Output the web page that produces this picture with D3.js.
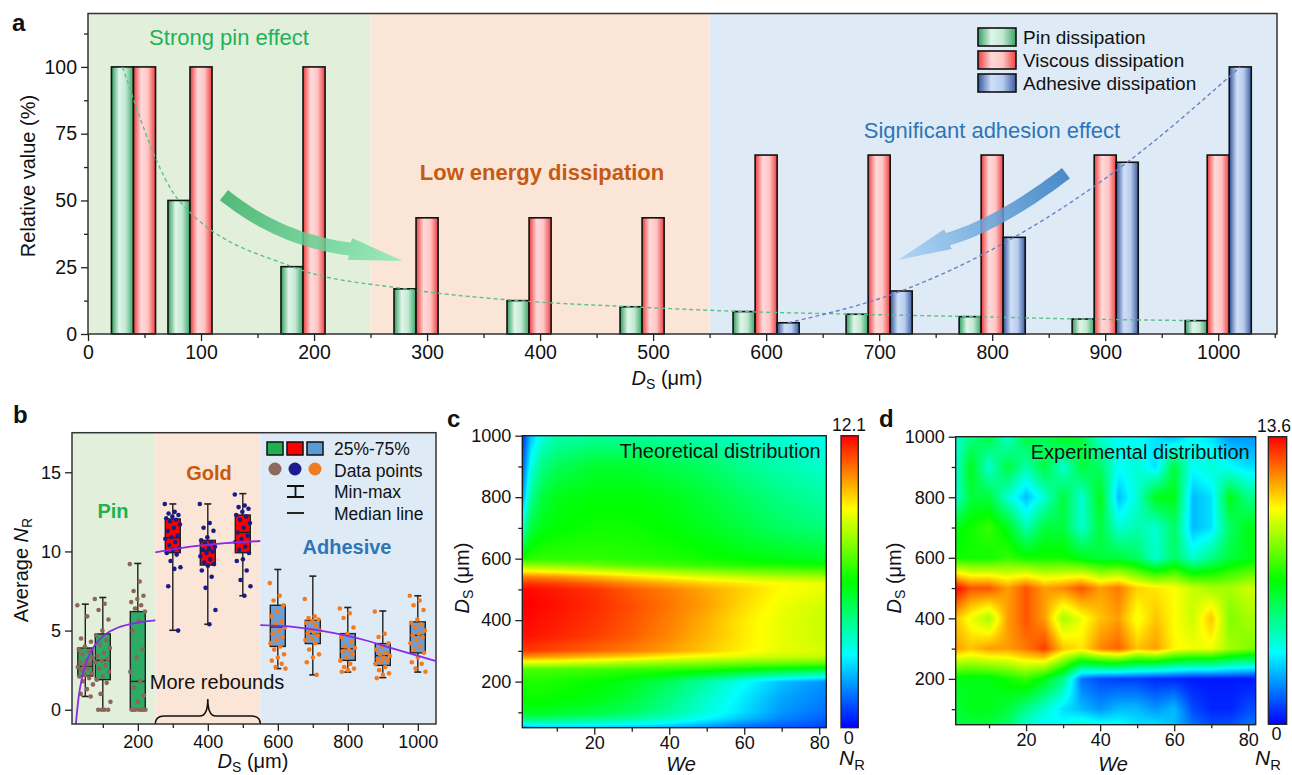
<!DOCTYPE html>
<html>
<head>
<meta charset="utf-8">
<script src="https://cdn.jsdelivr.net/npm/d3@7"></script>
<style>
  body { margin: 0; background: #fff; }
  svg { display: block; font-family: "Liberation Sans", Arial, Helvetica, sans-serif; }
  .tick text { fill: #111; }
  .tick line { stroke: #222; stroke-width: 1.3; }
</style>
</head>
<body>
<svg id="fig" width="1292" height="775"></svg>
<script>
// ---- panel a: relative dissipation
var dsA = [50, 100, 200, 300, 400, 500, 600, 700, 800, 900, 1000];
var pinA = [100, 50, 25.2, 16.9, 12.5, 10.2, 8.4, 7.4, 6.5, 5.6, 5.0];
var viscA = [100, 100, 100, 43.5, 43.5, 43.5, 67, 67, 67, 67, 67];
var adhA = [0, 0, 0, 0, 0, 0, 4.2, 16.1, 36.2, 64.3, 100];
var legendA = ["Pin dissipation", "Viscous dissipation", "Adhesive dissipation"];

// ---- panel b: box stats [min, q1, median, q3, max] and raw points
var dsB = [50, 100, 200, 300, 400, 500, 600, 700, 800, 900, 1000];
var boxB = [
  [0.84, 2.13, 2.74, 3.9, 6.67], [0, 1.9, 3.12, 4.79, 7.09], [0, 0, 1.79, 6.2, 9.24],
  [5.02, 9.92, 10.86, 12.05, 13.0], [5.4, 9.14, 10.04, 10.7, 13.0], [7.2, 9.92, 11.2, 12.3, 13.65],
  [2.6, 4.0, 5.23, 6.6, 8.86], [2.2, 4.18, 4.81, 5.65, 8.44], [2.38, 3.12, 3.86, 4.81, 6.46],
  [2.03, 2.8, 3.42, 4.18, 6.24], [2.38, 3.59, 4.7, 5.55, 7.2]
];
var ptsB = [
  [6.6, 5.9, 4.5, 4.3, 4.0, 3.8, 3.7, 3.5, 3.3, 3.1, 3.0, 2.9, 2.8, 2.7, 2.6, 2.5, 2.3, 2.2, 2.1, 2.0, 1.8, 1.6, 1.3, 1.0, 0.84],
  [7.0, 6.7, 6.3, 5.7, 5.0, 4.7, 4.4, 4.1, 3.9, 3.6, 3.4, 3.2, 3.1, 3.0, 2.8, 2.6, 2.4, 2.1, 1.9, 1.7, 1.0, 0.5, 0, 0, 0, 0],
  [9.2, 8.1, 7.5, 7.2, 7.0, 6.8, 6.6, 6.4, 6.2, 5.6, 5.0, 3.8, 3.3, 2.4, 1.8, 1.4, 0.9, 0.5, 0, 0, 0, 0, 0, 0, 0],
  [13.0, 12.5, 12.4, 12.3, 12.2, 12.1, 12.0, 11.9, 11.7, 11.5, 11.3, 11.0, 10.9, 10.8, 10.6, 10.4, 10.2, 10.1, 9.9, 9.8, 9.4, 9.0, 8.9, 7.8, 5.0],
  [13.0, 11.8, 11.5, 11.3, 10.9, 10.7, 10.6, 10.5, 10.3, 10.2, 10.1, 10.0, 9.9, 9.7, 9.5, 9.3, 9.2, 9.1, 8.8, 8.4, 7.7, 6.3, 5.4],
  [13.6, 12.9, 12.8, 12.7, 12.5, 12.3, 12.2, 12.0, 11.8, 11.5, 11.2, 11.0, 10.8, 10.6, 10.3, 10.1, 9.9, 9.5, 9.4, 8.8, 8.2, 7.8, 7.2],
  [8.0, 7.2, 6.9, 6.6, 6.2, 5.9, 5.6, 5.4, 5.2, 5.0, 4.8, 4.6, 4.4, 4.2, 4.0, 3.8, 3.5, 3.3, 3.1, 2.9, 2.7, 2.6],
  [7.0, 5.9, 5.8, 5.7, 5.6, 5.5, 5.3, 5.1, 5.0, 4.9, 4.8, 4.7, 4.5, 4.4, 4.2, 3.8, 3.5, 3.3, 3.0, 2.2],
  [6.4, 6.1, 5.8, 5.2, 4.8, 4.6, 4.3, 4.0, 3.9, 3.8, 3.7, 3.5, 3.3, 3.1, 2.9, 2.7, 2.6, 2.5, 2.4],
  [6.2, 4.8, 4.6, 4.2, 4.0, 3.8, 3.6, 3.5, 3.4, 3.3, 3.2, 3.1, 3.0, 2.9, 2.7, 2.5, 2.3, 2.2, 2.0],
  [7.2, 6.9, 6.6, 6.3, 5.7, 5.5, 5.4, 5.2, 5.0, 4.8, 4.7, 4.6, 4.4, 4.2, 4.0, 3.8, 3.6, 3.3, 3.0, 2.9, 2.6, 2.4]
];
// fitted curves (purple)
var fitPin = [[23, -0.9], [31, 0.8], [41, 2.06], [55, 3.12], [74, 3.96], [98, 4.6], [136, 5.12], [184, 5.44], [250, 5.65]];
var fitGold = [[250, 9.94], [350, 10.3], [450, 10.52], [550, 10.66]];
var fitAdh = [[550, 5.34], [650, 5.22], [726, 4.98], [850, 4.39], [915, 3.96], [1050, 3.08]];

// ---- panel c: theoretical N_R grid (rows = D_S, cols = We)
var cWe = [1, 3, 6, 10, 20, 30, 40, 50, 60, 70, 82];
var cDs = [50, 60, 80, 100, 150, 200, 240, 260, 280, 300, 350, 400, 450, 500, 520, 540, 560, 580, 600, 700, 800, 900, 1000];
var cNR = [
  [1.8, 2.0, 2.2, 2.3, 2.3, 2.2, 2.0, 1.6, 1.2, 0.9, 0.7],
  [3.0, 3.2, 3.3, 3.3, 3.2, 3.0, 2.7, 2.2, 1.6, 1.2, 0.9],
  [4.6, 4.8, 4.8, 4.7, 4.5, 4.2, 3.7, 3.0, 2.3, 1.6, 1.1],
  [5.6, 5.7, 5.7, 5.6, 5.3, 4.9, 4.2, 3.4, 2.6, 1.8, 1.3],
  [6.1, 6.2, 6.2, 6.1, 5.9, 5.4, 4.6, 3.7, 2.8, 2.0, 1.5],
  [6.3, 6.4, 6.4, 6.3, 6.1, 5.7, 5.0, 4.1, 3.1, 2.3, 1.7],
  [6.9, 6.9, 6.9, 6.9, 6.8, 6.7, 6.6, 6.4, 6.1, 5.8, 5.5],
  [8.6, 8.6, 8.6, 8.5, 8.3, 8.0, 7.8, 7.6, 7.4, 7.3, 7.2],
  [10.3, 10.3, 10.2, 10.1, 9.8, 9.5, 9.1, 8.8, 8.6, 8.4, 8.3],
  [11.4, 11.4, 11.3, 11.2, 10.9, 10.6, 10.2, 9.7, 9.2, 8.8, 8.6],
  [11.9, 11.9, 11.8, 11.7, 11.4, 11.0, 10.5, 9.9, 9.3, 8.8, 8.4],
  [12.0, 12.0, 11.9, 11.8, 11.5, 11.1, 10.6, 10.0, 9.3, 8.8, 8.4],
  [12.1, 12.1, 12.0, 11.9, 11.6, 11.2, 10.7, 10.2, 9.5, 8.9, 8.5],
  [12.0, 12.0, 11.9, 11.8, 11.5, 11.0, 10.6, 10.1, 9.6, 9.1, 8.8],
  [11.5, 11.5, 11.4, 11.3, 10.9, 10.4, 10.0, 9.6, 9.3, 9.0, 8.8],
  [10.6, 10.6, 10.5, 10.4, 10.0, 9.5, 9.1, 8.7, 8.4, 8.2, 8.0],
  [9.1, 9.1, 9.0, 8.9, 8.6, 8.2, 7.9, 7.6, 7.4, 7.2, 7.0],
  [7.6, 7.6, 7.6, 7.5, 7.3, 7.0, 6.8, 6.6, 6.4, 6.3, 6.2],
  [6.3, 6.5, 6.6, 6.6, 6.6, 6.5, 6.4, 6.2, 6.0, 5.8, 5.6],
  [3.8, 5.3, 5.8, 6.0, 6.2, 6.2, 6.0, 5.7, 5.3, 4.9, 4.6],
  [1.9, 4.3, 5.3, 5.8, 6.0, 6.0, 5.8, 5.4, 4.9, 4.5, 4.1],
  [1.2, 3.2, 4.5, 5.0, 5.5, 5.5, 5.2, 4.9, 4.4, 4.0, 3.6],
  [0.6, 2.3, 3.4, 4.0, 4.2, 4.2, 4.1, 3.9, 3.7, 3.5, 3.2]
];
var cMax = 12.1;

// ---- panel d: experimental N_R grid
var dWe = [1, 5, 10, 15, 20, 25, 30, 35, 40, 45, 50, 55, 60, 65, 70, 75, 80];
var dDs = [50, 100, 200, 300, 400, 500, 600, 700, 800, 900, 1000];
var dNR = [
  [6.0, 6.0, 6.0, 5.5, 4.0, 3.5, 3.5, 4.0, 3.5, 3.5, 3.0, 3.0, 2.5, 1.5, 1.0, 1.0, 1.5],
  [6.0, 6.5, 6.5, 6.0, 5.0, 4.0, 3.0, 2.5, 2.0, 2.5, 2.5, 2.0, 2.5, 1.0, 0.5, 0.5, 1.0],
  [6.5, 6.5, 6.5, 7.0, 7.5, 6.5, 5.0, 1.5, 1.0, 0.8, 0.8, 0.5, 0.5, 0.3, 0.3, 0.3, 0.3],
  [11.5, 11.0, 11.5, 11.5, 12.0, 12.8, 11.0, 10.5, 11.8, 12.3, 11.0, 11.5, 10.3, 10.0, 10.0, 9.0, 8.5],
  [11.0, 10.0, 9.0, 11.5, 12.5, 11.5, 9.0, 10.0, 11.0, 11.5, 10.0, 11.0, 10.2, 9.5, 11.0, 8.5, 9.0],
  [13.6, 12.5, 12.5, 11.5, 12.5, 11.5, 11.8, 12.5, 11.5, 12.0, 10.8, 10.5, 10.2, 9.5, 9.0, 9.0, 9.5],
  [7.0, 7.0, 7.0, 7.5, 7.0, 7.0, 7.0, 6.5, 6.0, 6.0, 5.5, 4.0, 5.5, 4.0, 5.0, 6.0, 6.5],
  [6.5, 7.0, 7.5, 6.5, 4.5, 6.0, 6.0, 4.0, 6.0, 4.0, 4.5, 4.0, 5.5, 2.5, 3.0, 5.5, 6.5],
  [4.0, 6.0, 6.0, 4.0, 2.5, 4.0, 6.0, 4.0, 6.5, 2.5, 4.0, 6.5, 6.5, 2.5, 3.0, 6.5, 5.0],
  [4.0, 6.5, 4.0, 6.0, 4.5, 6.0, 4.0, 6.0, 5.5, 3.5, 4.0, 3.0, 6.0, 3.5, 4.0, 3.5, 3.0],
  [4.0, 5.0, 6.0, 4.0, 6.0, 5.5, 6.5, 6.0, 4.0, 3.5, 3.5, 3.0, 2.5, 3.5, 3.0, 2.0, 2.0]
];
var dMax = 13.6;

var rainbow = ["#0000ff", "#00ffff", "#00ff00", "#ffff00", "#ff0000"];
var FONT = '"Liberation Sans", Arial, Helvetica, sans-serif';

var svg = d3.select("#fig");
var defs = svg.append("defs");

function hGrad(id, stops) {
  var g = defs.append("linearGradient").attr("id", id)
    .attr("x1", 0).attr("x2", 1).attr("y1", 0).attr("y2", 0);
  stops.forEach(function (s) { g.append("stop").attr("offset", s[0]).attr("stop-color", s[1]); });
}
hGrad("gPin", [[0, "#2f9e5e"], [0.35, "#e0f5e9"], [0.65, "#c2e8d1"], [1, "#38a566"]]);
hGrad("gVisc", [[0, "#ec3b3b"], [0.35, "#ffd9d9"], [0.65, "#ffc6c6"], [1, "#ef4040"]]);
hGrad("gAdh", [[0, "#34549a"], [0.35, "#cfe0f6"], [0.65, "#b8cdee"], [1, "#3b5ca2"]]);

function axis(g, scale, orient, major, minor, fs, pad) {
  var mk = orient === "bottom" ? d3.axisBottom : d3.axisLeft;
  if (minor) g.append("g").call(mk(scale).tickValues(minor).tickSize(4).tickFormat(""))
    .call(function (s) { s.select(".domain").remove(); });
  g.append("g").call(mk(scale).tickValues(major).tickSize(7).tickPadding(pad || 4).tickFormat(d3.format("d")))
    .attr("font-family", FONT).attr("font-size", fs)
    .call(function (s) { s.select(".domain").remove(); s.selectAll("text").attr("font-size", fs); });
}

// text with italic / subscript pieces
function rich(parent, x, y, segs, size, rot, anchor) {
  var t = parent.append("text")
    .attr("transform", "translate(" + x + "," + y + ")" + (rot ? " rotate(-90)" : ""))
    .attr("text-anchor", anchor || "middle").attr("font-size", size).attr("fill", "#111");
  var down = false;
  segs.forEach(function (s) {
    var sp = t.append("tspan").text(s.t);
    if (s.i) sp.attr("font-style", "italic");
    if (s.sub) { sp.attr("font-size", size * 0.7).attr("dy", size * 0.22); down = true; }
    else if (down) { sp.attr("dy", -size * 0.22); down = false; }
  });
  return t;
}
var DS = [{t: "D", i: 1}, {t: "S", sub: 1}, {t: " (μm)"}];

function label(x, y, s) {
  svg.append("text").attr("x", x).attr("y", y).attr("font-size", 24)
    .attr("font-weight", "bold").attr("fill", "#111").text(s);
}

// thick curved arrow along quadratic bezier S-C-E, head to T
function arrowPath(S, C, E, T, w, hw) {
  var L = [], R = [], n = 24;
  for (var k = 0; k <= n; k++) {
    var t = k / n, a = (1 - t) * (1 - t), b = 2 * t * (1 - t), c = t * t;
    var px = a * S[0] + b * C[0] + c * E[0], py = a * S[1] + b * C[1] + c * E[1];
    var dx = 2 * (1 - t) * (C[0] - S[0]) + 2 * t * (E[0] - C[0]);
    var dy = 2 * (1 - t) * (C[1] - S[1]) + 2 * t * (E[1] - C[1]);
    var len = Math.sqrt(dx * dx + dy * dy), nx = -dy / len, ny = dx / len;
    L.push([px + nx * w / 2, py + ny * w / 2]);
    R.push([px - nx * w / 2, py - ny * w / 2]);
  }
  var hx = T[0] - E[0], hy = T[1] - E[1], hl = Math.sqrt(hx * hx + hy * hy);
  var mx = -hy / hl, my = hx / hl;
  var pts = L.concat([[E[0] + mx * hw / 2, E[1] + my * hw / 2], T, [E[0] - mx * hw / 2, E[1] - my * hw / 2]])
    .concat(R.reverse());
  return "M" + pts.map(function (p) { return p[0].toFixed(1) + "," + p[1].toFixed(1); }).join("L") + "Z";
}

// ================= panel a =================
var xA = d3.scaleLinear().domain([0, 1052]).range([88, 1277]);
var yA = d3.scaleLinear().domain([0, 120]).range([334, 13.5]);
var gA = svg.append("g");
[[0, 250, "#e2efda"], [250, 550, "#fbe5d6"], [550, 1052, "#deebf7"]].forEach(function (r) {
  gA.append("rect").attr("x", xA(r[0])).attr("y", yA(120)).attr("width", xA(r[1]) - xA(r[0]))
    .attr("height", yA(0) - yA(120)).attr("fill", r[2]);
});

gA.append("text").attr("x", 229).attr("y", 45).attr("text-anchor", "middle")
  .attr("font-size", 22).attr("fill", "#1fb25a").text("Strong pin effect");
gA.append("text").attr("x", 542).attr("y", 180).attr("text-anchor", "middle")
  .attr("font-size", 22).attr("font-weight", "bold").attr("fill", "#c55a11").text("Low energy dissipation");
gA.append("text").attr("x", 992).attr("y", 138).attr("text-anchor", "middle")
  .attr("font-size", 22).attr("fill", "#2e75b6").text("Significant adhesion effect");

var bw = 19.5;
function bars(vals, off, fill) {
  gA.append("g").selectAll("rect").data(dsA.map(function (d, i) { return {d: d, v: vals[i]}; })
    .filter(function (o) { return o.v > 0; }))
    .enter().append("rect")
    .attr("x", function (o) { return xA(o.d + off - bw / 2); })
    .attr("width", function (o) { return xA(o.d + off + bw / 2) - xA(o.d + off - bw / 2); })
    .attr("y", function (o) { return yA(o.v); })
    .attr("height", function (o) { return yA(0) - yA(o.v); })
    .attr("fill", fill).attr("stroke", "#111").attr("stroke-width", 1.6);
}
bars(pinA, -bw, "url(#gPin)");
bars(viscA, 0, "url(#gVisc)");
bars(adhA, bw, "url(#gAdh)");

var lineA = d3.line().x(function (p) { return xA(p[0]); }).y(function (p) { return yA(p[1]); })
  .curve(d3.curveMonotoneX);
gA.append("path").attr("d", lineA(dsA.map(function (d, i) { return [d - bw, pinA[i]]; })))
  .attr("fill", "none").attr("stroke", "#5cc08a").attr("stroke-width", 1.4).attr("stroke-dasharray", "4,3");
gA.append("path").attr("d", lineA(dsA.map(function (d, i) { return [d + bw, adhA[i]]; })
    .filter(function (p) { return p[1] > 0; })))
  .attr("fill", "none").attr("stroke", "#6d80c4").attr("stroke-width", 1.4).attr("stroke-dasharray", "4,3");

function pt(p) { return [xA(p[0]), yA(p[1])]; }
var ga = defs.append("linearGradient").attr("id", "arG").attr("gradientUnits", "userSpaceOnUse")
  .attr("x1", xA(120)).attr("y1", yA(52)).attr("x2", xA(279)).attr("y2", yA(27));
ga.append("stop").attr("offset", 0).attr("stop-color", "#38b068");
ga.append("stop").attr("offset", 1).attr("stop-color", "#90ebb8");
var gb = defs.append("linearGradient").attr("id", "arB").attr("gradientUnits", "userSpaceOnUse")
  .attr("x1", xA(865)).attr("y1", yA(60)).attr("x2", xA(717)).attr("y2", yA(28));
gb.append("stop").attr("offset", 0).attr("stop-color", "#2f7ac0");
gb.append("stop").attr("offset", 1).attr("stop-color", "#a9d2f4");
gA.append("path").attr("d", arrowPath(pt([120.3, 52]), pt([169.9, 35.1]), pt([231.8, 31.8]), pt([278.7, 27.3]), 13, 22))
  .attr("fill", "url(#arG)").attr("fill-opacity", 0.85);
gA.append("path").attr("d", arrowPath(pt([865.3, 60.2]), pt([806, 41.1]), pt([760.9, 35.5]), pt([716.7, 27.7]), 13, 21))
  .attr("fill", "url(#arB)").attr("fill-opacity", 0.85);

// legend
["url(#gPin)", "url(#gVisc)", "url(#gAdh)"].forEach(function (f, i) {
  gA.append("rect").attr("x", 978).attr("y", 28 + i * 23).attr("width", 38).attr("height", 18)
    .attr("fill", f).attr("stroke", "#111").attr("stroke-width", 1.6);
  gA.append("text").attr("x", 1023).attr("y", 44 + i * 23).attr("font-size", 19)
    .attr("fill", "#111").text(legendA[i]);
});

gA.append("rect").attr("x", xA(0)).attr("y", yA(120)).attr("width", xA(1052) - xA(0))
  .attr("height", yA(0) - yA(120)).attr("fill", "none").attr("stroke", "#333").attr("stroke-width", 1.5);
axis(gA.append("g").attr("transform", "translate(0," + yA(0) + ")"), xA, "bottom",
  d3.range(0, 1001, 100), d3.range(50, 1051, 100), 19.5);
axis(gA.append("g").attr("transform", "translate(" + xA(0) + ",0)"), yA, "left",
  [0, 25, 50, 75, 100], [12.5, 37.5, 62.5, 87.5, 112.5], 19.5);
rich(gA, 667, 385, DS, 20);
rich(gA, 35, 176, [{t: "Relative value (%)"}], 20, true);
label(12, 31, "a");

// ================= panel b =================
var xB = d3.scaleLinear().domain([12, 1052]).range([72, 436]);
var yB = d3.scaleLinear().domain([-0.9, 17.5]).range([724, 432.7]);
var gB = svg.append("g");
[[12, 250, "#e2efda"], [250, 550, "#fbe5d6"], [550, 1052, "#deebf7"]].forEach(function (r) {
  gB.append("rect").attr("x", xB(r[0])).attr("y", yB(17.5)).attr("width", xB(r[1]) - xB(r[0]))
    .attr("height", yB(-0.9) - yB(17.5)).attr("fill", r[2]);
});
defs.append("clipPath").attr("id", "clipB").append("rect")
  .attr("x", xB(12)).attr("y", yB(17.5)).attr("width", xB(1052) - xB(12)).attr("height", yB(-0.9) - yB(17.5));

gB.append("text").attr("x", 113).attr("y", 518).attr("text-anchor", "middle").attr("font-size", 20)
  .attr("font-weight", "bold").attr("fill", "#22b14c").text("Pin");
gB.append("text").attr("x", 209).attr("y", 480).attr("text-anchor", "middle").attr("font-size", 20)
  .attr("font-weight", "bold").attr("fill", "#c55a11").text("Gold");
gB.append("text").attr("x", 347).attr("y", 554).attr("text-anchor", "middle").attr("font-size", 20)
  .attr("font-weight", "bold").attr("fill", "#2e75b6").text("Adhesive");

var boxFill = function (d) { return d < 250 ? "#2bab63" : d < 550 ? "#ff0000" : "#6b9fd6"; };
var ptFill = function (d) { return d < 250 ? "#8c6658" : d < 550 ? "#1a1a85" : "#f47a20"; };
var halfBox = 7.5, cap = 3.5;
dsB.forEach(function (d, i) {
  var s = boxB[i], cx = xB(d), g = gB.append("g");
  g.append("line").attr("x1", cx).attr("x2", cx).attr("y1", yB(s[0])).attr("y2", yB(s[4]))
    .attr("stroke", "#222").attr("stroke-width", 1.4);
  [s[0], s[4]].forEach(function (v) {
    g.append("line").attr("x1", cx - cap).attr("x2", cx + cap).attr("y1", yB(v)).attr("y2", yB(v))
      .attr("stroke", "#222").attr("stroke-width", 1.6);
  });
  g.append("rect").attr("x", cx - halfBox).attr("width", halfBox * 2)
    .attr("y", yB(s[3])).attr("height", Math.max(0.5, yB(s[1]) - yB(s[3])))
    .attr("fill", boxFill(d)).attr("stroke", "#222").attr("stroke-width", 1.4);
  g.append("line").attr("x1", cx - halfBox).attr("x2", cx + halfBox).attr("y1", yB(s[2])).attr("y2", yB(s[2]))
    .attr("stroke", "#222").attr("stroke-width", 1.4);
  g.selectAll("circle").data(ptsB[i]).enter().append("circle")
    .attr("cx", function (v, k) { return cx + (((k * 0.618034) % 1) - 0.5) * 16; })
    .attr("cy", function (v) { return yB(v); })
    .attr("r", 2.3).attr("fill", ptFill(d));
});

var lineB = d3.line().x(function (p) { return xB(p[0]); }).y(function (p) { return yB(p[1]); })
  .curve(d3.curveMonotoneX);
[fitPin, fitGold, fitAdh].forEach(function (f) {
  gB.append("path").attr("d", lineB(f)).attr("clip-path", "url(#clipB)")
    .attr("fill", "none").attr("stroke", "#8a2be2").attr("stroke-width", 1.8);
});

gB.append("text").attr("x", 217).attr("y", 689).attr("text-anchor", "middle").attr("font-size", 20)
  .attr("fill", "#111").text("More rebounds");
var bl = xB(250), br = xB(550), bm = xB(400), by = 716;
gB.append("path").attr("fill", "none").attr("stroke", "#111").attr("stroke-width", 1.6)
  .attr("d", "M" + bl + ",724 Q" + bl + "," + by + " " + (bl + 9) + "," + by + " L" + (bm - 8) + "," + by +
    " Q" + bm + "," + by + " " + bm + ",699 Q" + bm + "," + by + " " + (bm + 8) + "," + by +
    " L" + (br - 9) + "," + by + " Q" + br + "," + by + " " + br + ",724");

// legend b
["#20b050", "#ff0000", "#5b9bd5"].forEach(function (c, i) {
  gB.append("rect").attr("x", 267 + i * 20).attr("y", 442).attr("width", 16).attr("height", 13)
    .attr("fill", c).attr("stroke", "#111").attr("stroke-width", 1.5);
});
["#8c6a5d", "#1c1c8c", "#f07d22"].forEach(function (c, i) {
  gB.append("circle").attr("cx", 275 + i * 20).attr("cy", 469).attr("r", 6.5).attr("fill", c);
});
gB.append("path").attr("d", "M287,486H304M295.5,486V497M287,497H304").attr("stroke", "#111")
  .attr("stroke-width", 1.8).attr("fill", "none");
gB.append("line").attr("x1", 287).attr("x2", 304).attr("y1", 513).attr("y2", 513)
  .attr("stroke", "#111").attr("stroke-width", 1.8);
["25%-75%", "Data points", "Min-max", "Median line"].forEach(function (s, i) {
  gB.append("text").attr("x", 334).attr("y", 455 + i * 21.5).attr("font-size", 17.5)
    .attr("fill", "#111").text(s);
});

gB.append("rect").attr("x", xB(12)).attr("y", yB(17.5)).attr("width", xB(1052) - xB(12))
  .attr("height", yB(-0.9) - yB(17.5)).attr("fill", "none").attr("stroke", "#333").attr("stroke-width", 1.5);
axis(gB.append("g").attr("transform", "translate(0," + yB(-0.9) + ")"), xB, "bottom",
  [200, 400, 600, 800, 1000], [100, 300, 500, 700, 900], 18);
axis(gB.append("g").attr("transform", "translate(" + xB(12) + ",0)"), yB, "left", [0, 5, 10, 15], null, 18);
rich(gB, 253, 768, DS, 20);
rich(gB, 28, 570, [{t: "Average "}, {t: "N", i: 1}, {t: "R", sub: 1}], 20, true);
label(13, 423, "b");

// ================= panels c, d (heat maps) =================
function heatURL(xs, ys, grid, xS, yS, vmax) {
  var x0 = xS.range()[0], y0 = yS.range()[1];
  var w = Math.round(xS.range()[1] - x0), h = Math.round(yS.range()[0] - y0);
  var cv = document.createElement("canvas");
  cv.width = w; cv.height = h;
  var ctx = cv.getContext("2d"), img = ctx.createImageData(w, h);
  var col = d3.scaleLinear().domain(rainbow.map(function (c, i) { return i / (rainbow.length - 1) * vmax; }))
    .range(rainbow).clamp(true);
  var lut = d3.range(256).map(function (i) { return d3.rgb(col(i / 255 * vmax)); });
  for (var py = 0; py < h; py++) {
    var D = yS.invert(y0 + py + 0.5);
    var j = Math.max(0, Math.min(ys.length - 2, d3.bisectRight(ys, D) - 1));
    var t = Math.max(0, Math.min(1, (D - ys[j]) / (ys[j + 1] - ys[j])));
    for (var px = 0; px < w; px++) {
      var We = xS.invert(x0 + px + 0.5);
      var i = Math.max(0, Math.min(xs.length - 2, d3.bisectRight(xs, We) - 1));
      var u = Math.max(0, Math.min(1, (We - xs[i]) / (xs[i + 1] - xs[i])));
      var v = (1 - t) * ((1 - u) * grid[j][i] + u * grid[j][i + 1]) + t * ((1 - u) * grid[j + 1][i] + u * grid[j + 1][i + 1]);
      var c = lut[Math.max(0, Math.min(255, Math.round(v / vmax * 255)))];
      var o = (py * w + px) * 4;
      img.data[o] = c.r; img.data[o + 1] = c.g; img.data[o + 2] = c.b; img.data[o + 3] = 255;
    }
  }
  ctx.putImageData(img, 0, 0);
  return {url: cv.toDataURL(), x: x0, y: y0, w: w, h: h};
}

var cbGrad = defs.append("linearGradient").attr("id", "cbar").attr("x1", 0).attr("x2", 0).attr("y1", 1).attr("y2", 0);
rainbow.forEach(function (c, i) { cbGrad.append("stop").attr("offset", i / (rainbow.length - 1)).attr("stop-color", c); });

function heatPanel(xs, ys, grid, vmax, xS, yS, cb, title, tag, tagX, ylabX, weX, nrX, maxX) {
  var g = svg.append("g");
  var hm = heatURL(xs, ys, grid, xS, yS, vmax);
  g.append("image").attr("href", hm.url).attr("x", hm.x).attr("y", hm.y)
    .attr("width", hm.w).attr("height", hm.h).attr("preserveAspectRatio", "none");
  g.append("rect").attr("x", hm.x).attr("y", hm.y).attr("width", hm.w).attr("height", hm.h)
    .attr("fill", "none").attr("stroke", "#222").attr("stroke-width", 1.4);
  g.append("text").attr("x", xS.range()[1] - 6).attr("y", hm.y + 22).attr("text-anchor", "end")
    .attr("font-size", 20).attr("fill", "#111").text(title);
  axis(g.append("g").attr("transform", "translate(0," + yS.range()[0] + ")"), xS, "bottom",
    [20, 40, 60, 80], [10, 30, 50, 70], 18, 2);
  axis(g.append("g").attr("transform", "translate(" + xS.range()[0] + ",0)"), yS, "left",
    [200, 400, 600, 800, 1000], [100, 300, 500, 700, 900], 18);
  rich(g, weX, 771, [{t: "We", i: 1}], 20);
  rich(g, ylabX, 578, DS, 20, true);
  // colour bar
  g.append("rect").attr("x", cb[0]).attr("y", yS.range()[1]).attr("width", cb[1] - cb[0])
    .attr("height", yS.range()[0] - yS.range()[1]).attr("fill", "url(#cbar)")
    .attr("stroke", "#222").attr("stroke-width", 1.3);
  var cm = (cb[0] + cb[1]) / 2;
  g.append("text").attr("x", maxX).attr("y", yS.range()[1] - 5).attr("text-anchor", "middle")
    .attr("font-size", 17.5).attr("fill", "#111").text(vmax.toFixed(1));
  g.append("text").attr("x", cm - 1).attr("y", yS.range()[0] + 16).attr("text-anchor", "middle")
    .attr("font-size", 18).attr("fill", "#111").text("0");
  rich(g, nrX, 765, [{t: "N", i: 1}, {t: "R", sub: 1}], 21);
  label(tagX, 427, tag);
}

var xC = d3.scaleLinear().domain([0.8, 82]).range([522.3, 826.7]);
var yC = d3.scaleLinear().domain([50, 1000]).range([727.7, 435.7]);
heatPanel(cWe, cDs, cNR, cMax, xC, yC, [841, 858.3], "Theoretical distribution", "c", 447, 469, 681, 852, 849);

var xD = d3.scaleLinear().domain([1, 82]).range([955.7, 1255.7]);
var yD = d3.scaleLinear().domain([50, 1000]).range([724.3, 436.7]);
heatPanel(dWe, dDs, dNR, dMax, xD, yD, [1268.3, 1286.7], "Experimental distribution", "d", 879, 901, 1113, 1268, 1274);
</script>
</body>
</html>
